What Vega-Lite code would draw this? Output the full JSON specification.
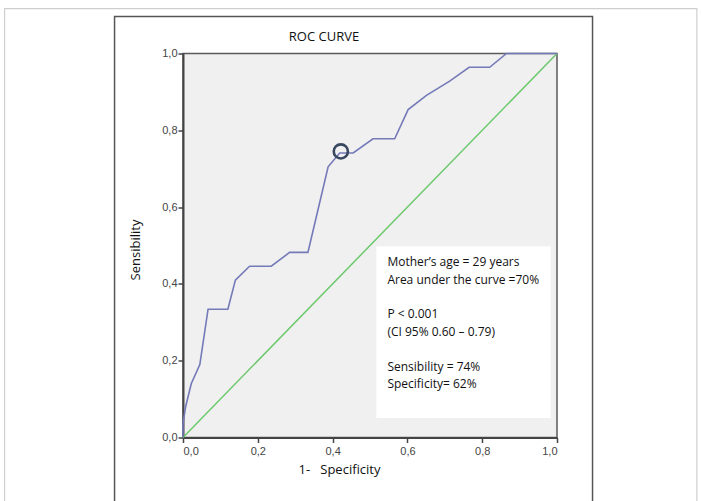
{
  "$schema": "https://vega.github.io/schema/vega-lite/v6.json",
  "width": 374,
  "height": 384,
  "autosize": "none",
  "padding": {"left": 183, "top": 53.5, "right": 144, "bottom": 63.5},
  "background": "white",
  "datasets": {
    "roc": [
      {"i": 0, "fpr": 0.0, "tpr": 0.0},
      {"i": 1, "fpr": 0.0, "tpr": 0.037},
      {"i": 2, "fpr": 0.007, "tpr": 0.08},
      {"i": 3, "fpr": 0.022, "tpr": 0.14},
      {"i": 4, "fpr": 0.045, "tpr": 0.19},
      {"i": 5, "fpr": 0.067, "tpr": 0.334},
      {"i": 6, "fpr": 0.12, "tpr": 0.334},
      {"i": 7, "fpr": 0.14, "tpr": 0.41},
      {"i": 8, "fpr": 0.178, "tpr": 0.446},
      {"i": 9, "fpr": 0.236, "tpr": 0.446},
      {"i": 10, "fpr": 0.285, "tpr": 0.482},
      {"i": 11, "fpr": 0.334, "tpr": 0.482},
      {"i": 12, "fpr": 0.388, "tpr": 0.705},
      {"i": 13, "fpr": 0.419, "tpr": 0.741},
      {"i": 14, "fpr": 0.455, "tpr": 0.741},
      {"i": 15, "fpr": 0.508, "tpr": 0.778},
      {"i": 16, "fpr": 0.566, "tpr": 0.778},
      {"i": 17, "fpr": 0.602, "tpr": 0.854},
      {"i": 18, "fpr": 0.651, "tpr": 0.891},
      {"i": 19, "fpr": 0.713, "tpr": 0.928},
      {"i": 20, "fpr": 0.765, "tpr": 0.964},
      {"i": 21, "fpr": 0.82, "tpr": 0.964},
      {"i": 22, "fpr": 0.865, "tpr": 1.0},
      {"i": 23, "fpr": 1.0, "tpr": 1.0}
    ],
    "ref": [
      {"fpr": 0, "tpr": 0},
      {"fpr": 1, "tpr": 1}
    ],
    "cut": [
      {"fpr": 0.422, "tpr": 0.745}
    ],
    "one": [{}]
  },
  "config": {
    "view": {"fill": "#f0f0f0", "stroke": "#5a5a5a", "strokeWidth": 1.5},
    "axis": {
      "grid": false,
      "domainColor": "#444",
      "domainWidth": 2,
      "tickColor": "#444",
      "tickWidth": 1.5,
      "tickSize": 5,
      "labelFont": "Liberation Sans",
      "labelFontSize": 11,
      "labelColor": "#444",
      "titleFont": "Open Sans",
      "titleFontSize": 13,
      "titleFontWeight": "normal",
      "titleColor": "#111"
    },
    "text": {"font": "Open Sans", "fontSize": 12, "lineHeight": 17.5, "color": "#111", "align": "left", "baseline": "alphabetic"}
  },
  "layer": [
    {
      "data": {"name": "one"},
      "mark": {"type": "rect", "fill": null, "stroke": "#cfcfcf", "strokeWidth": 1.2},
      "encoding": {
        "x": {"datum": -0.477, "type": "quantitative"},
        "x2": {"datum": 1.374},
        "y": {"datum": 1.117, "type": "quantitative"},
        "y2": {"datum": -0.3}
      }
    },
    {
      "data": {"name": "one"},
      "mark": {"type": "rect", "fill": null, "stroke": "#555", "strokeWidth": 1.5},
      "encoding": {
        "x": {"datum": -0.183, "type": "quantitative"},
        "x2": {"datum": 1.095},
        "y": {"datum": 1.0965, "type": "quantitative"},
        "y2": {"datum": -0.3}
      }
    },
    {
      "data": {"name": "one"},
      "mark": {"type": "text", "align": "center", "baseline": "middle", "fontSize": 13},
      "encoding": {
        "x": {"datum": 0.377, "type": "quantitative"},
        "y": {"datum": 1.044, "type": "quantitative"},
        "text": {"value": "ROC CURVE"}
      }
    },
    {
      "data": {"name": "ref"},
      "mark": {"type": "line", "color": "#6cc96c", "strokeWidth": 1.5},
      "encoding": {
        "x": {
          "field": "fpr", "type": "quantitative",
          "scale": {"domain": [0, 1], "nice": false, "zero": false},
          "axis": {
            "values": [0, 0.2, 0.4, 0.6, 0.8, 1],
            "labelExpr": "replace(format(datum.value, '.1f'), '.', ',')",
            "labelPadding": 3,
            "title": "1-\u00a0\u00a0\u00a0Specificity",
            "titleX": 156,
            "titleY": 32,
            "titleAlign": "center",
            "titleBaseline": "middle"
          }
        },
        "y": {
          "field": "tpr", "type": "quantitative",
          "scale": {"domain": [0, 1], "nice": false, "zero": false},
          "axis": {
            "values": [0, 0.2, 0.4, 0.6, 0.8, 1],
            "labelExpr": "replace(format(datum.value, '.1f'), '.', ',')",
            "labelPadding": 1,
            "title": "Sensibility",
            "titleX": -48,
            "titleY": 196,
            "titleAngle": -90,
            "titleAlign": "center",
            "titleBaseline": "middle"
          }
        }
      }
    },
    {
      "data": {"name": "roc"},
      "mark": {"type": "line", "color": "#7479b8", "strokeWidth": 1.6},
      "encoding": {
        "x": {"field": "fpr", "type": "quantitative"},
        "y": {"field": "tpr", "type": "quantitative"},
        "order": {"field": "i", "type": "quantitative"}
      }
    },
    {
      "data": {"name": "cut"},
      "mark": {"type": "point", "shape": "circle", "size": 200, "filled": false, "stroke": "#37475f", "strokeWidth": 2.6, "opacity": 1},
      "encoding": {
        "x": {"field": "fpr", "type": "quantitative"},
        "y": {"field": "tpr", "type": "quantitative"}
      }
    },
    {
      "data": {"name": "one"},
      "mark": {"type": "rect", "fill": "white", "stroke": null},
      "encoding": {
        "x": {"datum": 0.517, "type": "quantitative"},
        "x2": {"datum": 0.983},
        "y": {"datum": 0.498, "type": "quantitative"},
        "y2": {"datum": 0.051}
      }
    },
    {
      "data": {"name": "one"},
      "mark": {"type": "text"},
      "encoding": {
        "x": {"datum": 0.5465, "type": "quantitative"},
        "y": {"datum": 0.4466, "type": "quantitative"},
        "text": {"value": ["Mother’s age = 29 years", "Area under the curve =70%"]}
      }
    },
    {
      "data": {"name": "one"},
      "mark": {"type": "text"},
      "encoding": {
        "x": {"datum": 0.5465, "type": "quantitative"},
        "y": {"datum": 0.31, "type": "quantitative"},
        "text": {"value": ["P < 0.001", "(CI 95% 0.60 – 0.79)"]}
      }
    },
    {
      "data": {"name": "one"},
      "mark": {"type": "text"},
      "encoding": {
        "x": {"datum": 0.5465, "type": "quantitative"},
        "y": {"datum": 0.1732, "type": "quantitative"},
        "text": {"value": ["Sensibility = 74%", "Specificity= 62%"]}
      }
    }
  ]
}
